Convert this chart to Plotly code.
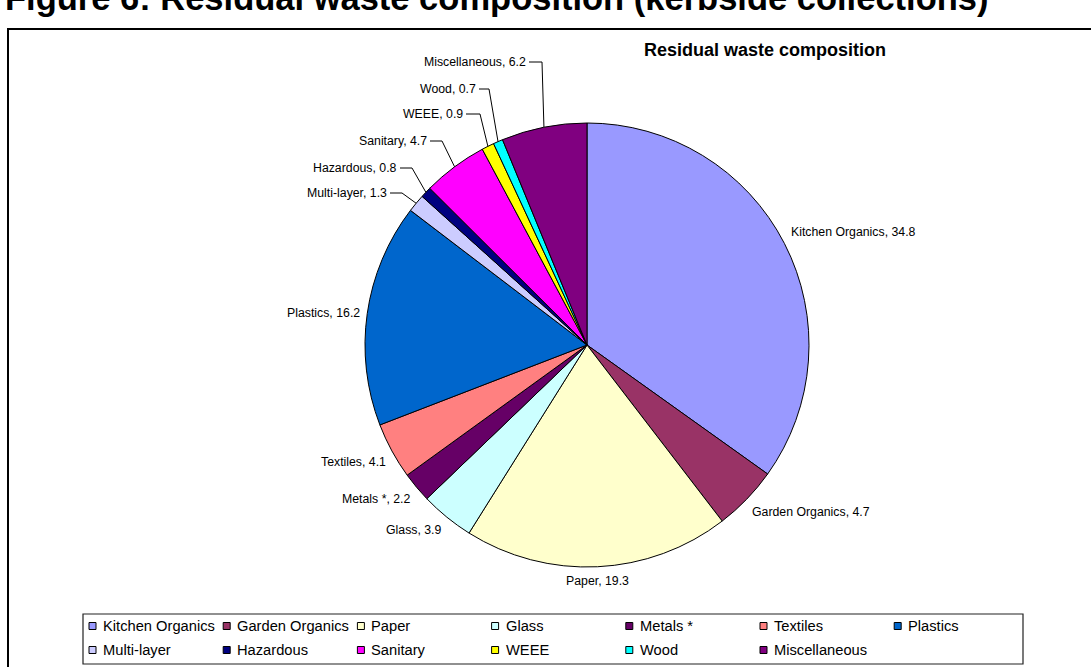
import math
import plotly.graph_objects as go

# Residual waste composition (kerbside collections), % by weight
categories = ["Kitchen Organics", "Garden Organics", "Paper", "Glass", "Metals *",
              "Textiles", "Plastics", "Multi-layer", "Hazardous", "Sanitary",
              "WEEE", "Wood", "Miscellaneous"]
shares = [34.8, 4.7, 19.3, 3.9, 2.2, 4.1, 16.2, 1.3, 0.8, 4.7, 0.9, 0.7, 6.2]
colors = ["#9999FF", "#993366", "#FFFFCC", "#CCFFFF", "#660066", "#FF8080",
          "#0066CC", "#CCCCFF", "#000080", "#FF00FF", "#FFFF00", "#00FFFF",
          "#800080"]

# Page geometry (pixels)
W, H = 1091, 667
CX, CY, R = 587, 345, 222
FONT = "Liberation Sans, Arial, sans-serif"

# Labels of thin slices are pulled out with a leader line:
# (right edge of text, text y, x of the elbow)
pulled_labels = {
    "Multi-layer": (388, 193, 402),
    "Hazardous": (398, 168, 412),
    "Sanitary": (428, 141, 442),
    "WEEE": (464, 114, 480),
    "Wood": (477, 89, 489),
    "Miscellaneous": (527, 62, 542),
}


def px(x):
    return x / W


def py(y):
    return 1 - y / H


fig = go.Figure()
fig.add_trace(go.Pie(
    labels=categories,
    values=shares,
    sort=False,
    direction="clockwise",
    rotation=0,
    marker=dict(colors=colors, line=dict(color="black", width=1)),
    textinfo="none",
    hoverinfo="label+value",
    showlegend=False,
    domain=dict(x=[px(CX - R), px(CX + R)], y=[py(CY + R), py(CY - R)]),
))

annotations = []
shapes = []

# Data labels around the pie
total = sum(shares)
cum = 0.0
for cat, val in zip(categories, shares):
    mid = (cum + val / 2) / total * 2 * math.pi
    cum += val
    s, c = math.sin(mid), math.cos(mid)
    text = f"{cat}, {val}"
    if cat in pulled_labels:
        tx, ty, ex = pulled_labels[cat]
        edge_x, edge_y = CX + R * s, CY - R * c
        shapes.append(dict(
            type="path", xref="paper", yref="paper",
            path=(f"M {px(tx + 2)} {py(ty)} L {px(ex)} {py(ty)} "
                  f"L {px(edge_x)} {py(edge_y)}"),
            line=dict(color="black", width=1),
        ))
        annotations.append(dict(
            x=px(tx + 1), y=py(ty), xref="paper", yref="paper",
            xanchor="right", yanchor="middle", showarrow=False, text=text,
            font=dict(family=FONT, size=12.3, color="black"),
        ))
    else:
        rr = R + 5
        ax, ay = CX + rr * s, CY - rr * c
        xa = "left" if s > 0.1 else ("right" if s < -0.1 else "center")
        ya = "bottom" if c > 0.3 else ("top" if c < -0.3 else "middle")
        annotations.append(dict(
            x=px(ax), y=py(ay), xref="paper", yref="paper",
            xanchor=xa, yanchor=ya, showarrow=False, text=text,
            font=dict(family=FONT, size=12.3, color="black"),
        ))

# Titles
annotations.append(dict(
    x=px(3), y=py(-2), xref="paper", yref="paper", xanchor="left",
    yanchor="middle", showarrow=False,
    text="<b>Figure 6: Residual waste composition (kerbside collections)</b>",
    font=dict(family=FONT, size=34.5, color="black"),
))
annotations.append(dict(
    x=px(765), y=py(50), xref="paper", yref="paper", xanchor="center",
    yanchor="middle", showarrow=False,
    text="<b>Residual waste composition</b>",
    font=dict(family=FONT, size=18, color="black"),
))

# Outer chart frame
shapes.append(dict(
    type="rect", xref="paper", yref="paper",
    x0=px(8), y0=py(29), x1=px(1110), y1=py(690),
    line=dict(color="black", width=2), fillcolor="rgba(0,0,0,0)",
))

# Legend box and entries (7 per row)
shapes.append(dict(
    type="rect", xref="paper", yref="paper",
    x0=px(83), y0=py(614), x1=px(1023), y1=py(664),
    line=dict(color="#222", width=1.2), fillcolor="white",
))
for i, (cat, col) in enumerate(zip(categories, colors)):
    row, colno = divmod(i, 7)
    x0 = 89 + colno * 134.2
    yc = 626 + row * 24
    shapes.append(dict(
        type="rect", xref="paper", yref="paper",
        x0=px(x0), y0=py(yc - 3.5), x1=px(x0 + 7), y1=py(yc + 3.5),
        line=dict(color="black", width=1), fillcolor=col,
    ))
    annotations.append(dict(
        x=px(x0 + 12), y=py(yc), xref="paper", yref="paper",
        xanchor="left", yanchor="middle", showarrow=False, text=cat,
        font=dict(family=FONT, size=14.7, color="black"),
    ))

fig.update_layout(
    width=W, height=H,
    margin=dict(l=0, r=0, t=0, b=0),
    paper_bgcolor="white", plot_bgcolor="white",
    annotations=annotations,
    shapes=shapes,
    showlegend=False,
)

fig.write_html("out.html")
